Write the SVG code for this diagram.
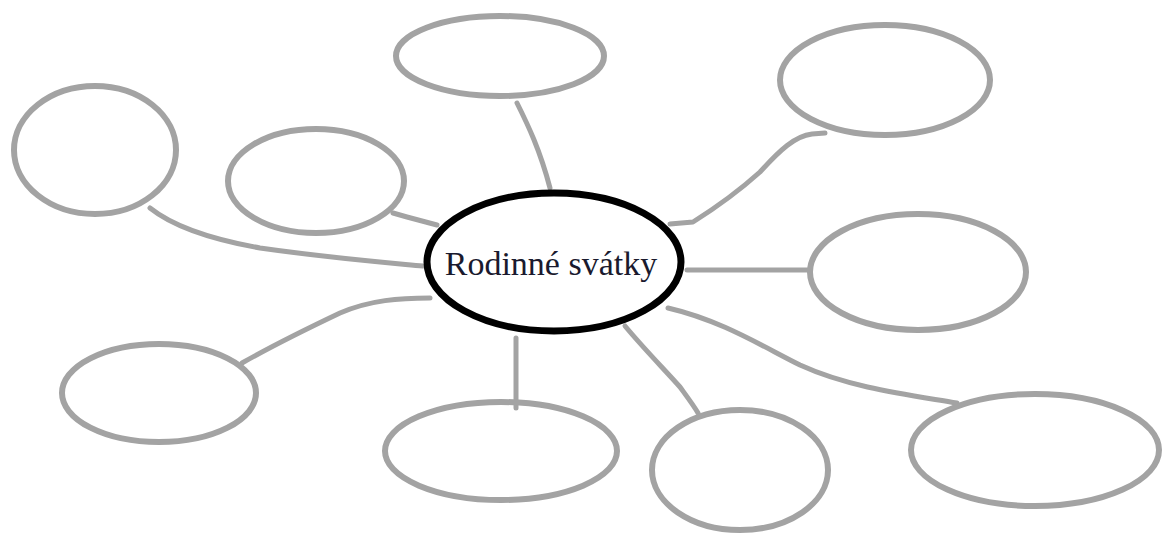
<svg xmlns="http://www.w3.org/2000/svg" width="1163" height="534" viewBox="0 0 1163 534">
<style>
.bubble{fill:none;stroke:#a3a3a3;stroke-width:6}
.link{fill:none;stroke:#a3a3a3;stroke-width:5;stroke-linecap:round;stroke-linejoin:round}
.hub{fill:#fff;stroke:#000;stroke-width:7}
.lbl{font-family:"Liberation Serif","Times New Roman",serif;font-size:34px;fill:#1a1a2e}
</style>
<rect width="1163" height="534" fill="#fff"/>
<g id="connectors">
<path class="link" d="M550,188 C540,150 528,125 517,103"/>
<path class="link" d="M670,224 L693,222 C720,205 740,190 760,172 C780,150 795,136 812,134 L825,133"/>
<path class="link" d="M423,266 C380,262 330,258 260,248 C215,240 175,228 150,208"/>
<path class="link" d="M437,225 L407,217 L393,213"/>
<path class="link" d="M687,270 L808,270"/>
<path class="link" d="M430,298 C400,298 370,300 340,313 C300,332 265,350 242,363"/>
<path class="link" d="M516,338 L516,408"/>
<path class="link" d="M625,326 C645,350 665,370 680,387 C688,398 694,406 698,413"/>
<path class="link" d="M668,308 C720,320 760,345 800,365 C850,388 910,395 957,403"/>
</g>
<g id="n-top"><ellipse class="bubble" cx="500" cy="56" rx="104" ry="40"/></g>
<g id="n-topright"><ellipse class="bubble" cx="885" cy="80" rx="105" ry="55"/></g>
<g id="n-left"><ellipse class="bubble" cx="95" cy="150" rx="81" ry="64"/></g>
<g id="n-midleft"><ellipse class="bubble" cx="316" cy="181" rx="88" ry="52"/></g>
<g id="n-right"><ellipse class="bubble" cx="918" cy="272" rx="108" ry="58"/></g>
<g id="n-bottomleft"><ellipse class="bubble" cx="159" cy="393" rx="97" ry="49"/></g>
<g id="n-bottom"><ellipse class="bubble" cx="501" cy="451" rx="116" ry="49"/></g>
<g id="n-bottomcr"><ellipse class="bubble" cx="740" cy="470" rx="88" ry="60"/></g>
<g id="n-bottomright"><ellipse class="bubble" cx="1035" cy="450" rx="124" ry="56"/></g>
<g id="n-center">
<ellipse class="hub" cx="554" cy="262" rx="127" ry="69"/>
<text class="lbl" x="551" y="275" text-anchor="middle">Rodinné svátky</text>
</g>
</svg>
